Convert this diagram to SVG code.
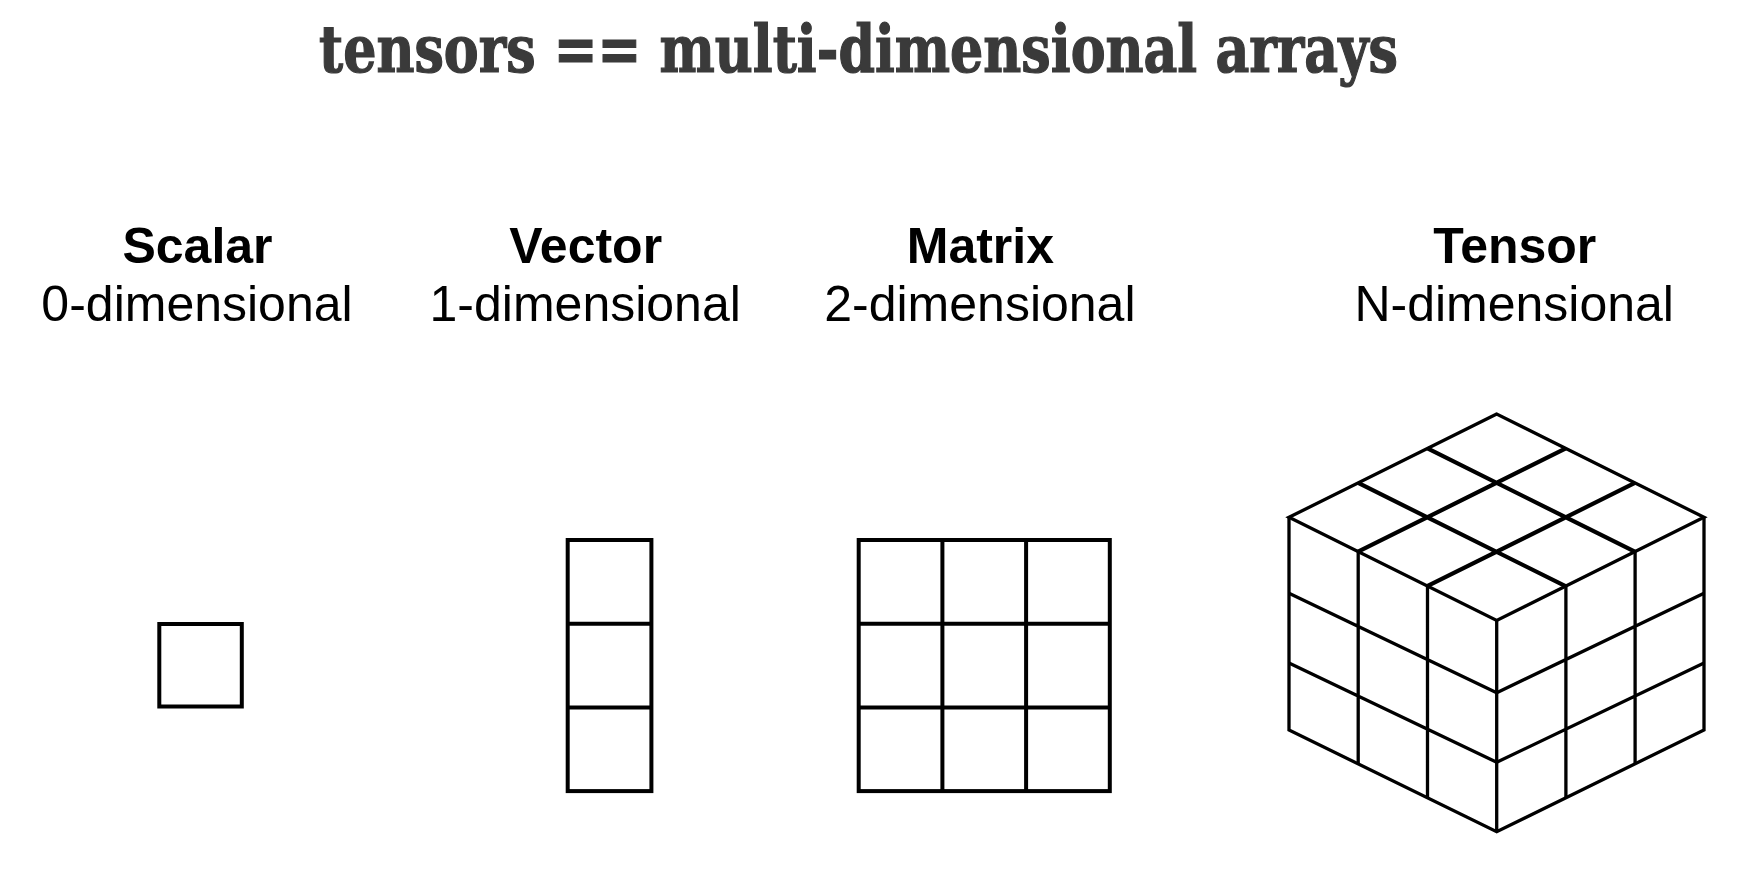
<svg xmlns="http://www.w3.org/2000/svg" width="1751" height="871" viewBox="0 0 1751 871">
<style>
.title{font-family:"DejaVu Serif Condensed","DejaVu Serif","Liberation Serif",serif;font-stretch:condensed;font-weight:bold;font-size:65px;fill:#3a3a3a;stroke:#3a3a3a;stroke-width:1.2}
.hd{font-family:"Liberation Sans",Arial,sans-serif;font-weight:bold;font-size:50px;fill:#000}
.sub{font-family:"Liberation Sans",Arial,sans-serif;font-size:50px;fill:#000}
.box{fill:none;stroke:#000;stroke-width:4}
.cube{fill:none;stroke:#000;stroke-width:3.3;stroke-linejoin:miter}
.cubein{fill:none;stroke:#000;stroke-width:4.2}
</style>
<rect width="1751" height="871" fill="#fff"/>
<text class="title" x="858.5" y="72" text-anchor="middle" textLength="1079" lengthAdjust="spacingAndGlyphs">tensors == multi-dimensional arrays</text>

<g id="scalar">
<text class="hd" x="197.5" y="263" text-anchor="middle">Scalar</text>
<text class="sub" x="197" y="321" text-anchor="middle">0-dimensional</text>
<rect class="box" x="159.3" y="624" width="82.5" height="82.5"/>
</g>

<g id="vector">
<text class="hd" x="585.7" y="263" text-anchor="middle">Vector</text>
<text class="sub" x="585.2" y="321" text-anchor="middle">1-dimensional</text>
<rect class="box" x="567.7" y="540" width="83.7" height="251.1"/>
<path class="box" d="M567.7 623.7H651.4M567.7 707.4H651.4"/>
</g>

<g id="matrix">
<text class="hd" x="980.4" y="263" text-anchor="middle">Matrix</text>
<text class="sub" x="979.9" y="321" text-anchor="middle">2-dimensional</text>
<rect class="box" x="858.7" y="540" width="251.1" height="251.1"/>
<path class="box" d="M942.4 540V791.1M1026.1 540V791.1M858.7 623.7H1109.8M858.7 707.4H1109.8"/>
</g>

<g id="tensor">
<text class="hd" x="1514.8" y="263" text-anchor="middle">Tensor</text>
<text class="sub" x="1514.2" y="321" text-anchor="middle">N-dimensional</text>
<path class="cube" d="M1496.7 414L1289 517.3L1496.7 620.5L1704 517.3Z"/>
<path class="cube" d="M1289 517.3V730L1496.7 831.7L1704 730V517.3M1496.7 620.5V831.7"/>
<path class="cubein" d="M1427.5 448.4L1634.8 551.7M1358.2 482.9L1565.5 586.2M1565.8 448.4L1358.1 551.7M1634.9 482.9L1427.2 586.2"/>
<path class="cube" d="M1289 593.3L1496.7 692.7M1289 663L1496.7 762.3M1358.2 551.7V763.9M1427.5 586.1V797.8"/>
<path class="cube" d="M1704 593.3L1496.7 692.7M1704 663L1496.7 762.3M1635.1 551.7V763.9M1565.9 586.1V797.8"/>
</g>
</svg>
